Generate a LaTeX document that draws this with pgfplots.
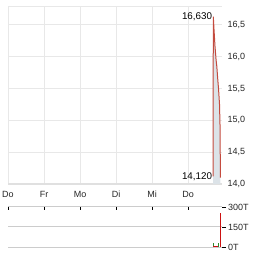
\documentclass[border=0pt]{standalone}
\usepackage{pgfplots}
\pgfplotsset{compat=1.18}
\usepackage{fontspec}
\setmainfont{Liberation Sans}
\definecolor{gridc}{HTML}{E8E8E8}
\definecolor{basec}{HTML}{E0E0E0}
\definecolor{vgrid}{HTML}{CCCCCC}
\definecolor{pline}{HTML}{C0392B}
\definecolor{pfill}{HTML}{DCE3E8}
\definecolor{vred}{HTML}{CC1111}
\definecolor{vgreen}{HTML}{2E8B2E}
\begin{document}
\begin{tikzpicture}
\useasboundingbox (0,0) rectangle (264bp,255bp);
% price axis
\begin{axis}[
  at={(8bp,71bp)}, anchor=south west, scale only axis,
  width=214bp, height=177bp,
  xmin=0, xmax=5.944, ymin=14, ymax=16.783,
  axis line style={draw=none},
  grid=major, grid style={color=gridc, line width=1bp},
  xtick={0,1,2,3,4,5}, xticklabels={Do,Fr,Mo,Di,Mi,Do},
  ytick={14,14.5,15,15.5,16,16.5},
  yticklabel pos=right,
  major tick length=0pt,
  tick label style={font=\fontsize{9bp}{10bp}\selectfont, text=black!85},
  xticklabel style={yshift=-3.5bp},
  yticklabel style={xshift=2bp},
  /pgf/number format/.cd, use comma, fixed, fixed zerofill, precision=1, assume math mode=true,
  /pgfplots/.cd,
  clip=false,
]
\draw[color=gridc, line width=1bp] (rel axis cs:0,1) -- (rel axis cs:1,1);
\draw[color=basec, line width=2bp] (rel axis cs:0,0) -- (rel axis cs:1,0);
\addplot[fill=pfill, draw=none] coordinates {
 (5.694,14.12) (5.703,16.63) (5.72,16.45) (5.75,16.16) (5.78,15.95) (5.80,15.85)
 (5.82,15.69) (5.85,15.48) (5.875,15.25) (5.89,14.9) (5.895,14.5) (5.90,14.10)
} \closedcycle;
\addplot[color=pline, line width=1bp, opacity=0.9] coordinates {
 (5.694,14.12) (5.703,16.63) (5.72,16.45) (5.75,16.16) (5.78,15.95) (5.80,15.85)
 (5.82,15.69) (5.85,15.48) (5.875,15.25) (5.89,14.9) (5.895,14.5) (5.90,14.10)
};
\node[anchor=east, font=\fontsize{9.8bp}{11bp}\selectfont, inner sep=1bp] at (axis cs:5.70,16.63) {16,630};
\node[anchor=east, font=\fontsize{9.8bp}{11bp}\selectfont, inner sep=1bp] at (axis cs:5.70,14.12) {14,120};
\end{axis}
% volume axis
\begin{axis}[
  at={(8bp,8bp)}, anchor=south west, scale only axis,
  width=214bp, height=40bp,
  xmin=0, xmax=5.944, ymin=0, ymax=300,
  axis line style={draw=none},
  xtick=\empty,
  ytick={0,150,300}, yticklabels={0T,150T,300T},
  ymajorgrids, grid style={color=vgrid, line width=1bp},
  yticklabel pos=right, ytick pos=right,
  tick align=outside, major tick length=4bp,
  ytick style={color=black, line width=0.8bp},
  tick label style={font=\fontsize{9bp}{10bp}\selectfont, text=black!85},
  yticklabel style={xshift=-1.5bp},
  clip=false,
]
\pgfplotsinvokeforeach{0,1,2,3,4,5}{
  \draw[black, line width=0.8bp] (axis cs:#1,300) -- ++(0,-3bp);
}
\addplot[ycomb, color=vred, line width=1bp] coordinates {(5.89,255)};
\addplot[ycomb, color=vgreen, line width=1bp] coordinates {(5.694,32) (5.833,32)};
\addplot[color=vred, line width=1bp] coordinates {(5.694,2) (5.833,2)};
\end{axis}
\end{tikzpicture}
\end{document}
